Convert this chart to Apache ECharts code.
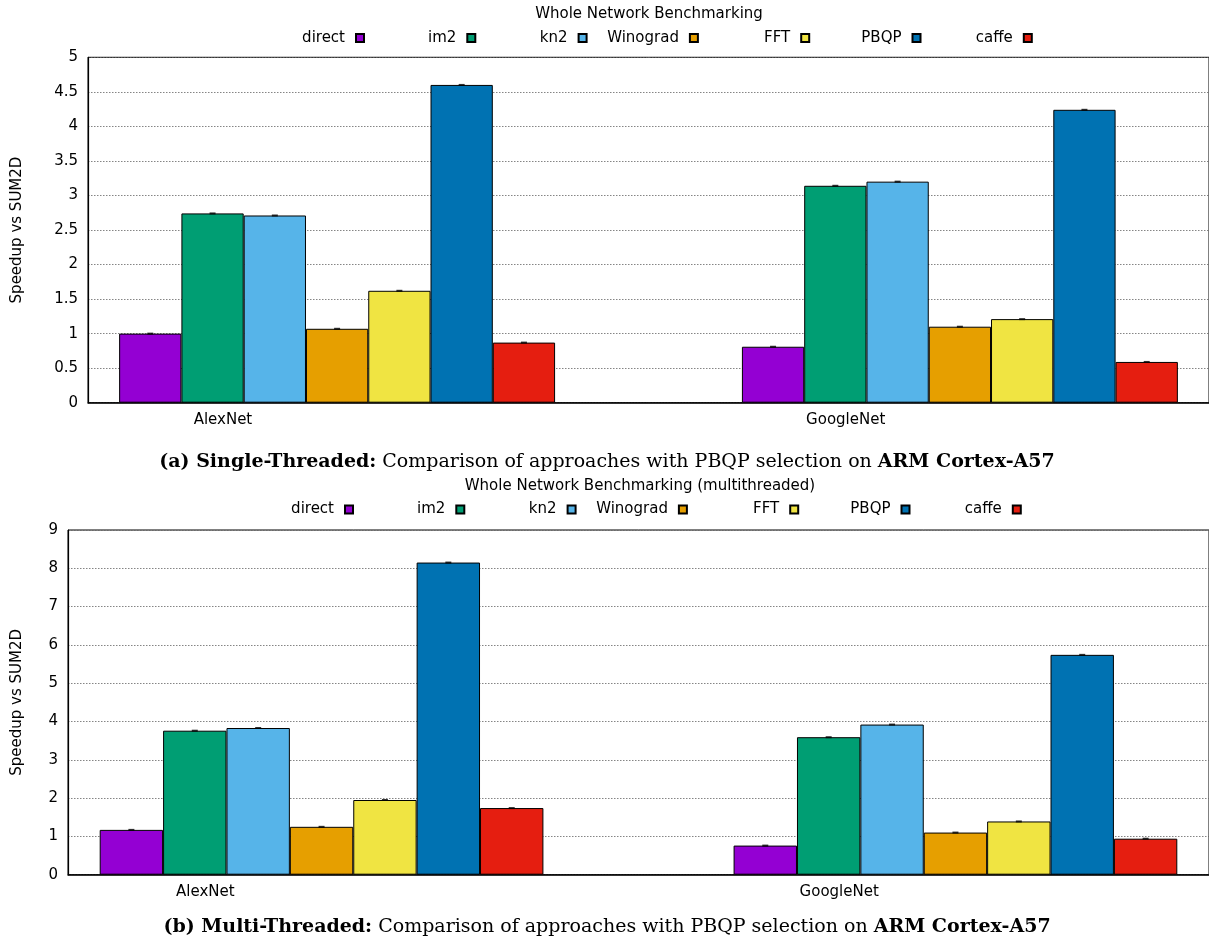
<!DOCTYPE html>
<html>
<head>
<meta charset="utf-8">
<script src="https://cdn.jsdelivr.net/npm/echarts@6/dist/echarts.min.js"></script>
<style>
html,body{margin:0;padding:0;background:#fff;}
#chart{width:1209px;height:947px;}
</style>
</head>
<body>
<div id="chart"></div>
<script>
const methods = ['direct', 'im2', 'kn2', 'Winograd', 'FFT', 'PBQP', 'caffe'];
const networks = ['AlexNet', 'GoogleNet'];
const colors = ['#9400D3', '#009E73', '#56B4E9', '#E69F00', '#F0E442', '#0072B2', '#E51E10'];

// Single-threaded speedups (per method)
const singleAlexNet   = [1.00, 2.74, 2.71, 1.07, 1.62, 4.60, 0.87];
const singleGoogleNet = [0.81, 3.14, 3.20, 1.10, 1.21, 4.24, 0.59];
// Multi-threaded speedups (per method)
const multiAlexNet    = [1.17, 3.76, 3.83, 1.25, 1.95, 8.15, 1.74];
const multiGoogleNet  = [0.76, 3.59, 3.92, 1.10, 1.39, 5.74, 0.94];

const yTicksSingle = { min: 0, max: 5, interval: 0.5 };
const yTicksMulti  = { min: 0, max: 9, interval: 1 };

const titleSingle = 'Whole Network Benchmarking';
const titleMulti  = 'Whole Network Benchmarking (multithreaded)';
const yName = 'Speedup vs SUM2D';
const captionSingle = ['(a) Single-Threaded:', ' Comparison of approaches with PBQP selection on ', 'ARM Cortex-A57'];
const captionMulti  = ['(b) Multi-Threaded:', ' Comparison of approaches with PBQP selection on ', 'ARM Cortex-A57'];

const SANS = 'DejaVu Sans';
const SERIF = 'DejaVu Serif';
const BAR_W = 0.1;        // bar width in x-axis units (cluster of 7 bars)

const chart = echarts.init(document.getElementById('chart'), null, { renderer: 'canvas' });

const grids = [
  { left: 88, top: 57.3, right: -1.5, bottom: 544.3, show: true, borderColor: '#000', borderWidth: 1, backgroundColor: 'transparent' },
  { left: 68, top: 530, right: -3.3, bottom: 72.3, show: true, borderColor: '#000', borderWidth: 1, backgroundColor: 'transparent' }
];

function xAxisFor(g) {
  return {
    type: 'value', gridIndex: g, min: -0.4, max: 1.4, interval: 1 / 60,
    axisLine: { show: true, onZero: false, lineStyle: { color: '#000', width: 1.5 } },
    axisTick: { show: false },
    splitLine: { show: false },
    axisLabel: {
      color: '#000', fontSize: 15, fontFamily: SANS, margin: 10,
      showMinLabel: false, showMaxLabel: false,
      formatter: function (v) {
        const k = Math.round(v * 60) + 11;
        if (k >= 0 && k % 60 === 0 && networks[k / 60]) return networks[k / 60];
        return '';
      }
    }
  };
}

function yAxisFor(g, ticks, gap) {
  return {
    type: 'value', gridIndex: g, min: ticks.min, max: ticks.max, interval: ticks.interval,
    axisLine: { show: true, onZero: false, lineStyle: { color: '#000', width: 1.2 } },
    axisTick: { show: false },
    axisLabel: { color: '#000', fontSize: 15, fontFamily: SANS, margin: 10 },
    splitLine: { show: true, lineStyle: { type: [1.5, 1.5], color: '#666', width: 0.8 } },
    name: yName, nameLocation: 'middle', nameGap: gap,
    nameTextStyle: { color: '#000', fontSize: 15, fontFamily: SANS }
  };
}

const series = [];
[[singleAlexNet, singleGoogleNet], [multiAlexNet, multiGoogleNet]].forEach(function (pair, g) {
  methods.forEach(function (m, i) {
    series.push({
      type: 'bar', name: m, xAxisIndex: g, yAxisIndex: g,
      data: [[0, pair[0][i]], [1, pair[1][i]]],
      barWidth: '10%', barGap: '0%',
      itemStyle: { color: colors[i], borderColor: '#000', borderWidth: 1 },
      emphasis: { disabled: true },
      animation: false, z: 2
    });
  });
  // tiny error-bar caps on top of every bar
  const caps = [];
  methods.forEach(function (m, i) {
    const off = (i - (methods.length - 1) / 2) * BAR_W;
    caps.push([0 + off, pair[0][i]]);
    caps.push([1 + off, pair[1][i]]);
  });
  series.push({
    type: 'scatter', name: 'err', xAxisIndex: g, yAxisIndex: g, data: caps,
    symbol: 'rect', symbolSize: [6, 2], itemStyle: { color: '#000' },
    silent: true, animation: false, z: 3
  });
});

const legends = [];
function addLegends(firstRight, step, top) {
  methods.forEach(function (m, i) {
    legends.push({
      data: [m], right: 1209 - (firstRight + step * i), top: top, align: 'right', padding: 0,
      itemWidth: 8, itemHeight: 8, icon: 'rect', selectedMode: false,
      textStyle: { color: '#000', fontSize: 15, fontFamily: SANS, padding: [0, 6, 0, 0] }
    });
  });
}
addLegends(365, 111.3, 30.5);
addLegends(354, 111.3, 502);

function captionText(parts, x, y) {
  return {
    type: 'text', x: x, y: y,
    style: {
      text: '{b|' + parts[0] + '}{n|' + parts[1] + '}{b|' + parts[2] + '}',
      align: 'center', verticalAlign: 'middle',
      rich: {
        b: { fontFamily: SERIF, fontSize: 19, fontWeight: 'bold', fill: '#000' },
        n: { fontFamily: SERIF, fontSize: 19, fill: '#000' }
      }
    }
  };
}

function plainText(text, x, y) {
  return {
    type: 'text', x: x, y: y,
    style: { text: text, align: 'center', verticalAlign: 'middle', fontFamily: SANS, fontSize: 15, fill: '#000' }
  };
}

chart.setOption({
  animation: false,
  backgroundColor: '#fff',
  grid: grids,
  xAxis: [xAxisFor(0), xAxisFor(1)],
  yAxis: [yAxisFor(0, yTicksSingle, 63), yAxisFor(1, yTicksMulti, 43)],
  legend: legends,
  series: series,
  graphic: [
    plainText(titleSingle, 649, 14.5),
    plainText(titleMulti, 640, 486.5),
    captionText(captionSingle, 607, 462),
    captionText(captionMulti, 607, 927)
  ]
});
</script>
</body>
</html>
